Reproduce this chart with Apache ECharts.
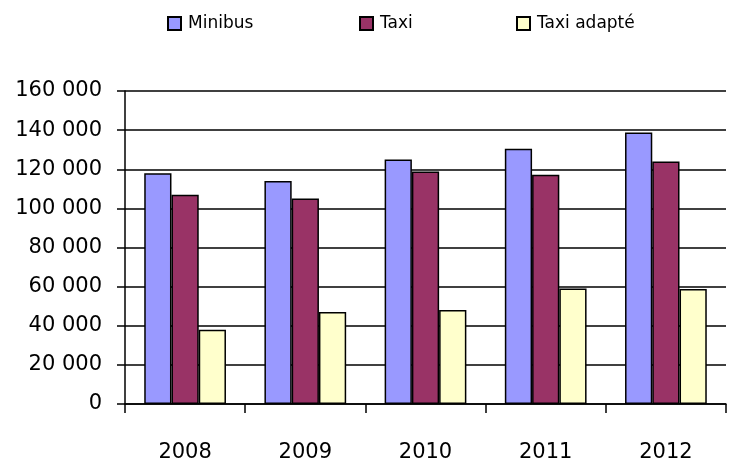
<!DOCTYPE html>
<html>
<head>
<meta charset="utf-8">
<script src="https://cdn.jsdelivr.net/npm/echarts@6/dist/echarts.min.js"></script>
<style>html,body{margin:0;padding:0;background:#fff}#c{width:736px;height:465px}</style>
</head>
<body>
<div id="c"></div>
<script>
const years = ['2008', '2009', '2010', '2011', '2012'];
const minibus = [118000, 114000, 125000, 130500, 138800];
const taxi = [107000, 105000, 118800, 117200, 124000];
const taxiAdapte = [38000, 47000, 48000, 59000, 58800];
const seriesNames = ['Minibus', 'Taxi', 'Taxi adapté'];
const seriesColors = ['#9999FF', '#993366', '#FFFFCC'];
const seriesData = [minibus, taxi, taxiAdapte];

const font = 'DejaVu Sans';
const chart = echarts.init(document.getElementById('c'), null, {renderer: 'canvas'});
const legendLefts = [162, 354, 511];
chart.setOption({
  animation: false,
  backgroundColor: '#fff',
  legend: seriesNames.map((n, i) => ({
    data: [n],
    left: legendLefts[i],
    top: 10,
    itemWidth: 13,
    itemHeight: 13,
    itemGap: 6,
    icon: 'rect',
    textStyle: {fontFamily: font, fontSize: 17, color: '#000', padding: [0, 0, 0, 2]},
    itemStyle: {borderColor: '#000', borderWidth: 2}
  })),
  grid: {left: 125, right: 10, top: 91, bottom: 61},
  xAxis: {
    type: 'category',
    data: years,
    boundaryGap: true,
    axisLine: {lineStyle: {color: '#000', width: 1.5}},
    axisTick: {show: true, length: 9, interval: 0, lineStyle: {color: '#000', width: 1.5}},
    axisLabel: {fontFamily: font, fontSize: 21, color: '#000', margin: 38}
  },
  yAxis: {
    type: 'value',
    min: 0, max: 160000, interval: 20000,
    axisLine: {show: true, lineStyle: {color: '#000', width: 1.5}},
    axisTick: {show: true, length: 8, lineStyle: {color: '#000', width: 1.5}},
    splitLine: {lineStyle: {color: '#000', width: 1.5}},
    axisLabel: {
      fontFamily: font, fontSize: 21, color: '#000', margin: 23,
      formatter: v => String(v).replace(/\B(?=(\d{3})+(?!\d))/g, ' ')
    }
  },
  series: seriesNames.map((n, i) => ({
    name: n,
    type: 'bar',
    data: seriesData[i],
    barGap: '0%',
    barCategoryGap: '32%',
    itemStyle: {color: seriesColors[i], borderColor: '#000', borderWidth: 1.5}
  }))
});
</script>
</body>
</html>
